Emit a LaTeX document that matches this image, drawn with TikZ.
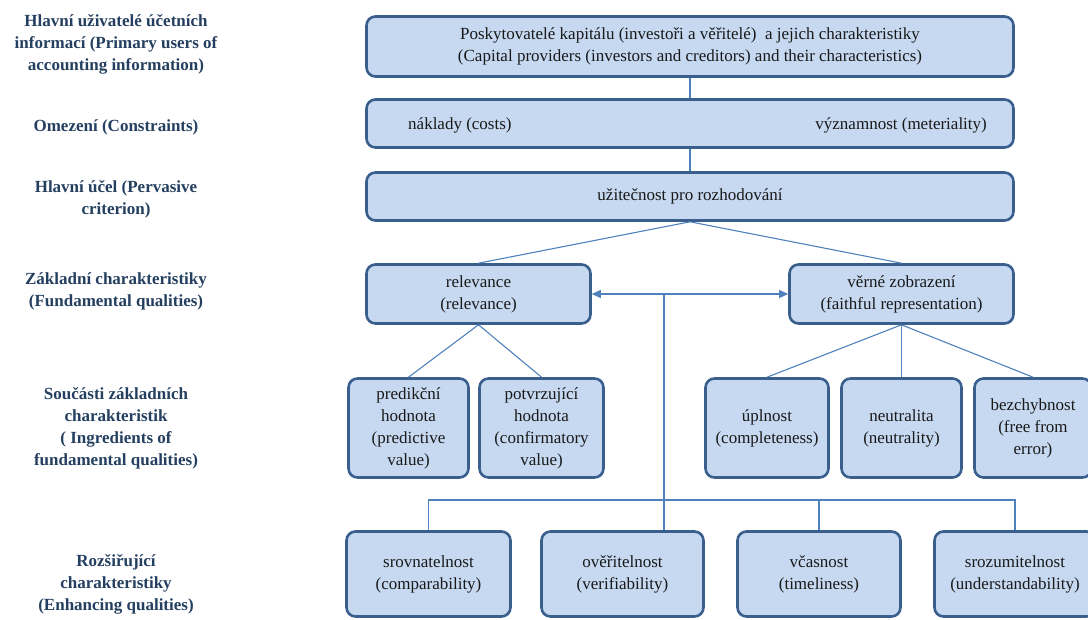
\documentclass[tikz,border=0pt]{standalone}
\usepackage{fontspec}
\setmainfont{Liberation Serif}
\usetikzlibrary{arrows.meta}
\definecolor{boxfill}{HTML}{C6D9F1}
\definecolor{boxdraw}{HTML}{3A5F8C}
\definecolor{connc}{HTML}{4F81BD}
\definecolor{labc}{HTML}{243F60}
\begin{document}
\begin{tikzpicture}[x=1pt,y=-1pt,
  box/.style={draw=boxdraw, line width=2.6pt, fill=boxfill, rounded corners=9pt,
    align=center, inner sep=2pt, text=black!90, font=\rmfamily\fontsize{17}{22}\selectfont},
  plain/.style={inner sep=0pt, text=black!90, font=\rmfamily\fontsize{17}{22}\selectfont},
  conn/.style={draw=connc, line width=1.1pt},
  lab/.style={text=labc, align=center, font=\rmfamily\bfseries\fontsize{17}{22}\selectfont},
  biarrow/.style={{Triangle[length=9pt,width=8pt]}-{Triangle[length=9pt,width=8pt]}}]
\useasboundingbox (0,0) rectangle (1088,620);

% left labels
\node[lab] (l1) at (116,44) {Hlavní uživatelé účetních\\informací (Primary users of\\accounting information)};
\node[lab] (l2) at (116,127) {Omezení (Constraints)};
\node[lab] (l3) at (116,199) {Hlavní účel (Pervasive\\criterion)};
\node[lab] (l4) at (116,291) {Základní charakteristiky\\(Fundamental qualities)};
\node[lab] (l5) at (116,428) {Součásti základních\\charakteristik\\( Ingredients of\\fundamental qualities)};
\node[lab] (l6) at (116,584) {Rozšiřující\\charakteristiky\\(Enhancing qualities)};

% top boxes
\node[box, minimum width=647pt, minimum height=60pt] (top) at (690,46.5)
  {Poskytovatelé kapitálu (investoři a věřitelé)~ a jejich charakteristiky\\(Capital providers (investors and creditors) and their characteristics)};
\node[box, minimum width=647pt, minimum height=48pt] (cons) at (690,123.5) {};
\node[plain, anchor=west] (cost) at (408,125) {náklady (costs)};
\node[plain, anchor=east] (mat) at (987,125) {významnost (meteriality)};
\node[box, minimum width=647pt, minimum height=48pt] (perv) at (690,196.5) {užitečnost pro rozhodování};

% fundamental
\node[box, minimum width=224pt, minimum height=59pt] (rel) at (478.5,294) {relevance\\(relevance)};
\node[box, minimum width=224pt, minimum height=59pt] (faith) at (901.5,294) {věrné zobrazení\\(faithful representation)};

% ingredients
\node[box, minimum width=120pt, minimum height=99pt] (pred) at (408.5,428) {predikční\\hodnota\\(predictive\\value)};
\node[box, minimum width=124pt, minimum height=99pt] (conf) at (541.5,428) {potvrzující\\hodnota\\(confirmatory\\value)};
\node[box, minimum width=123pt, minimum height=99pt] (comp) at (767,428) {úplnost\\(completeness)};
\node[box, minimum width=120pt, minimum height=99pt] (neut) at (901.5,428) {neutralita\\(neutrality)};
\node[box, minimum width=117pt, minimum height=99pt] (free) at (1033,428) {bezchybnost\\(free from\\error)};

% enhancing
\node[box, minimum width=164pt, minimum height=85pt] (srov) at (428.5,574) {srovnatelnost\\(comparability)};
\node[box, minimum width=162pt, minimum height=85pt] (over) at (622.5,574) {ověřitelnost\\(verifiability)};
\node[box, minimum width=163pt, minimum height=85pt] (vcas) at (819,574) {včasnost\\(timeliness)};
\node[box, minimum width=161pt, minimum height=85pt] (sroz) at (1015,574) {srozumitelnost\\(understandability)};

% connectors
\draw[conn] (top.south) -- (cons.north);
\draw[conn] (cons.south) -- (perv.north);
\draw[conn] (perv.south) -- (rel.north);
\draw[conn] (perv.south) -- (faith.north);
\draw[conn] (rel.south) -- (pred.north);
\draw[conn] (rel.south) -- (conf.north);
\draw[conn] (faith.south) -- (comp.north);
\draw[conn] (faith.south) -- (neut.north);
\draw[conn] (faith.south) -- (free.north);
\draw[conn, biarrow] (rel.east) -- (faith.west);
\coordinate (hub) at (664,294);
\coordinate (bus) at (664,500);
\draw[conn] (hub) -- (hub |- over.north);
\draw[conn] (srov.north) |- (sroz.north |- bus) -- (sroz.north);
\draw[conn] (vcas.north) -- (vcas.north |- bus);
\end{tikzpicture}
\end{document}
